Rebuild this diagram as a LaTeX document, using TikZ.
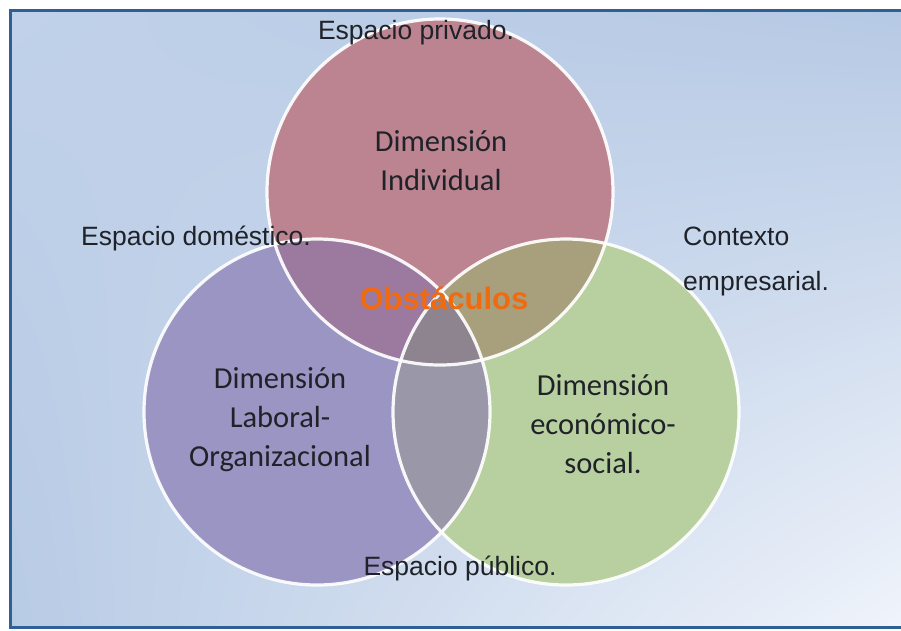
\documentclass[tikz,border=0pt]{standalone}
\usepackage{fontspec}
\usetikzlibrary{shadings}
\setmainfont{Liberation Sans}
\newfontfamily\calibfont{Carlito}
\definecolor{frameblue}{HTML}{2F5F93}
\definecolor{bgUL}{HTML}{C0D1E9}
\definecolor{bgUR}{HTML}{B6C9E4}
\definecolor{bgLL}{HTML}{B8CBE5}
\definecolor{bgLR}{HTML}{F0F4FB}
\definecolor{cR}{HTML}{BB8490}
\definecolor{cP}{HTML}{9A95C2}
\definecolor{cG}{HTML}{B8CFA0}
\definecolor{cRP}{HTML}{9C7AA0}
\definecolor{cRG}{HTML}{A8A07C}
\definecolor{cPG}{HTML}{9A98A8}
\definecolor{cRPG}{HTML}{8E8490}
\definecolor{txtdark}{HTML}{1F2329}
\definecolor{obstorange}{HTML}{F06A10}
\begin{document}
\begin{tikzpicture}[x=1pt,y=-1pt,
  sptext/.style={text=txtdark, font=\fontsize{26.5}{45}\selectfont, inner sep=0pt},
  dimtext/.style={text=txtdark, font=\calibfont\fontsize{30.5}{39}\selectfont, align=center, inner sep=0pt},
  obsttext/.style={text=obstorange, font=\bfseries\fontsize{31}{36}\selectfont, inner sep=0pt},
  ring/.style={draw=white, line width=3.2pt, draw opacity=0.92}]
\useasboundingbox (0,0) rectangle (901,630);
\fill[white] (0,0) rectangle (901,630);
\shade[upper left=bgUL, upper right=bgUR, lower left=bgLL, lower right=bgLR] (10,10) rectangle (901,627);
\draw[frameblue, line width=3pt] (901,10) -- (10,10) -- (10,627) -- (901,627);
\coordinate (R) at (440,192);
\coordinate (P) at (317,412);
\coordinate (G) at (566,412);
\def\rad{173}
\fill[cR] (R) circle[radius=\rad];
\fill[cP] (P) circle[radius=\rad];
\fill[cG] (G) circle[radius=\rad];
\begin{scope}
  \clip (R) circle[radius=\rad];
  \fill[cRP] (P) circle[radius=\rad];
  \fill[cRG] (G) circle[radius=\rad];
\end{scope}
\begin{scope}
  \clip (P) circle[radius=\rad];
  \fill[cPG] (G) circle[radius=\rad];
\end{scope}
\begin{scope}
  \clip (R) circle[radius=\rad];
  \clip (P) circle[radius=\rad];
  \fill[cRPG] (G) circle[radius=\rad];
\end{scope}
\draw[ring] (R) circle[radius=\rad];
\draw[ring] (P) circle[radius=\rad];
\draw[ring] (G) circle[radius=\rad];
\node[sptext] (priv) at (416,33) {Espacio privado.};
\node[sptext] (dom) at (196,238) {Espacio doméstico.};
\node[sptext, align=left, anchor=west] (ctx) at (683,261) {Contexto\\empresarial.};
\node[sptext] (pub) at (460,568) {Espacio público.};
\node[dimtext] (ind) at (441,161) {Dimensión\\Individual};
\node[dimtext] (lab) at (280,420) {Dimensión\\Laboral-\\Organizacional};
\node[dimtext] (eco) at (603,424) {Dimensión\\económico-\\social.};
\node[obsttext] (obst) at (444,298) {Obstáculos};
\end{tikzpicture}
\end{document}
